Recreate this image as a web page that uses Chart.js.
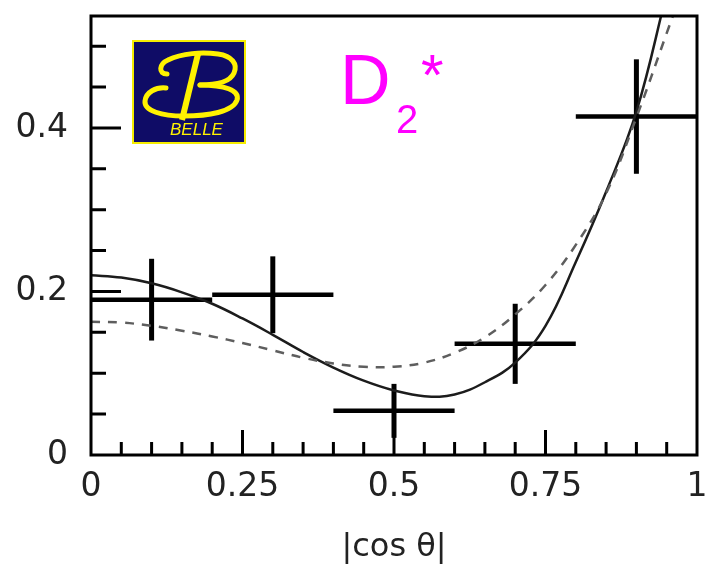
<!DOCTYPE html>
<html>
<head>
<meta charset="utf-8">
<script src="https://cdn.jsdelivr.net/npm/chart.js@4.4.1/dist/chart.umd.min.js"></script>
<style>
  html, body { margin: 0; padding: 0; background: #fff; }
  #wrap { width: 711px; height: 573px; }
</style>
</head>
<body>
<div id="wrap"><canvas id="myChart"></canvas></div>
<script>
// tick labels
const xMajorTicks = [0, 0.25, 0.5, 0.75, 1];
const yMajorTicks = [0, 0.2, 0.4];

// |cos theta| bins and measured yields
const binLow = [0, 0.2, 0.4, 0.6, 0.8];
const binHigh = [0.2, 0.4, 0.6, 0.8, 1.0];
const binCenter = [0.1, 0.3, 0.5, 0.7, 0.9];
const yields = [0.19, 0.196, 0.054, 0.136, 0.414];
const yieldErr = [0.05, 0.047, 0.033, 0.049, 0.07];

// fit curves, sampled every 0.05
const curveX = [0, 0.05, 0.1, 0.15, 0.2, 0.25, 0.3, 0.35, 0.4, 0.45, 0.5,
                0.55, 0.6, 0.65, 0.7, 0.75, 0.8, 0.85, 0.9, 0.95, 1.0];
const solidFit = [0.220, 0.217, 0.210, 0.199, 0.185, 0.167, 0.147, 0.126, 0.107, 0.091, 0.079,
                  0.072, 0.074, 0.089, 0.113, 0.158, 0.236, 0.322, 0.420, 0.565];
const dashedFit = [0.163, 0.162, 0.158, 0.152, 0.145, 0.137, 0.128, 0.119, 0.112, 0.108, 0.108,
                   0.113, 0.125, 0.144, 0.172, 0.208, 0.257, 0.320, 0.413, 0.516, 0.62];

const ctx = document.getElementById('myChart');

function curvePoints(values) {
    return values.map((v, i) => ({ x: curveX[i], y: v }));
}

function minorSteps(count) {
    let out = [];
    for (let i = 1; i <= count; i++) out.push(+(i * 0.05).toFixed(2));
    return out;
}
const xMinor = minorSteps(19);
const yMinor = minorSteps(10);

// error crosses: one horizontal and one vertical segment per bin
let errorSets = [];
binCenter.forEach((c, i) => {
    errorSets.push({
        data: [{ x: binLow[i], y: yields[i] }, { x: binHigh[i], y: yields[i] }],
        borderColor: '#000', borderWidth: 4.5
    });
    errorSets.push({
        data: [{ x: c, y: yields[i] - yieldErr[i] }, { x: c, y: yields[i] + yieldErr[i] }],
        borderColor: '#000', borderWidth: 5
    });
});
errorSets.forEach(d => {
    d.showLine = true;
    d.pointRadius = 0;
    d.borderCapStyle = 'butt';
    d.tension = 0;
});

function drawBelleLogo(c, x0, y0) {
    c.save();
    c.translate(x0, y0);
    c.fillStyle = '#0f0c66';
    c.fillRect(0, 0, 114, 104);
    c.strokeStyle = '#f5ec00';
    c.lineWidth = 2;
    c.strokeRect(1, 1, 112, 102);

    c.strokeStyle = '#fff200';
    c.lineCap = 'round';
    c.lineJoin = 'round';
    // upper loop of the script B
    c.lineWidth = 5;
    c.beginPath();
    c.moveTo(35, 34);
    c.bezierCurveTo(26, 34, 27, 24, 36, 20);
    c.bezierCurveTo(50, 13, 70, 12, 86, 14);
    c.bezierCurveTo(100, 16, 106, 24, 102, 33);
    c.bezierCurveTo(98, 42, 84, 45, 68, 45);
    c.stroke();
    // lower loop with the long swash
    c.beginPath();
    c.moveTo(68, 45);
    c.bezierCurveTo(92, 45, 108, 50, 105, 60);
    c.bezierCurveTo(101, 72, 76, 76, 52, 76);
    c.bezierCurveTo(30, 76, 12, 71, 13, 61);
    c.bezierCurveTo(14, 52, 24, 47, 34, 48);
    c.stroke();
    // slanted stem
    c.lineWidth = 6;
    c.lineCap = 'butt';
    c.beginPath();
    c.moveTo(66, 14);
    c.lineTo(50, 80);
    c.stroke();

    c.fillStyle = '#fff200';
    c.font = 'italic 17px "Liberation Sans"';
    c.textBaseline = 'alphabetic';
    c.fillText('BELLE', 38, 95);
    c.restore();
}

const framePlugin = {
    id: 'frame',
    afterDraw(chart) {
        const c = chart.ctx;
        const a = chart.chartArea;
        const xs = chart.scales.x;
        const ys = chart.scales.y;
        c.save();
        c.strokeStyle = '#000';
        c.lineWidth = 3;
        c.strokeRect(a.left, a.top, a.right - a.left, a.bottom - a.top);

        // ticks point into the plot
        c.beginPath();
        xMinor.forEach(v => {
            const px = xs.getPixelForValue(v);
            const len = xMajorTicks.includes(v) ? 25 : 13;
            c.moveTo(px, a.bottom);
            c.lineTo(px, a.bottom - len);
        });
        yMinor.forEach(v => {
            const py = ys.getPixelForValue(v);
            const len = yMajorTicks.includes(v) ? 30 : 15;
            c.moveTo(a.left, py);
            c.lineTo(a.left + len, py);
        });
        c.stroke();

        drawBelleLogo(c, a.left + 41, a.top + 24);

        // D2* label
        c.fillStyle = '#ff00ff';
        c.textBaseline = 'alphabetic';
        c.font = '70px "Liberation Sans"';
        c.fillText('D', a.left + 249, a.top + 88);
        c.font = '40px "Liberation Sans"';
        c.fillText('2', a.left + 305, a.top + 117);
        c.font = '58px "Liberation Sans"';
        c.fillText('*', a.left + 330, a.top + 79);
        c.restore();
    }
};

const tickFont = { family: 'DejaVu Sans', size: 33 };

new Chart(ctx, {
    type: 'scatter',
    data: {
        datasets: [
            {
                data: curvePoints(dashedFit),
                showLine: true,
                borderColor: '#5e5e5e',
                borderWidth: 2.5,
                borderDash: [9, 8],
                pointRadius: 0,
                tension: 0.4
            },
            {
                data: curvePoints(solidFit),
                showLine: true,
                borderColor: '#1c1c1c',
                borderWidth: 2.5,
                pointRadius: 0,
                tension: 0.4
            },
            ...errorSets
        ]
    },
    options: {
        responsive: true,
        maintainAspectRatio: false,
        animation: false,
        layout: { padding: { top: 16, right: 14, left: 0, bottom: 0 } },
        plugins: {
            legend: { display: false },
            tooltip: { enabled: false }
        },
        scales: {
            x: {
                type: 'linear',
                min: 0,
                max: 1,
                grid: { display: false, drawTicks: false },
                border: { display: false },
                afterBuildTicks: s => { s.ticks = xMajorTicks.map(v => ({ value: v })); },
                afterFit: s => { s.height = 118; s.paddingLeft = 0; s.paddingRight = 0; },
                ticks: {
                    padding: 13,
                    color: '#222',
                    font: tickFont,
                    maxRotation: 0,
                    autoSkip: false,
                    callback: v => String(v)
                },
                title: {
                    display: true,
                    text: '|cos θ|',
                    color: '#222',
                    font: { family: 'DejaVu Sans', size: 32 },
                    padding: { top: 0, bottom: 6 }
                }
            },
            y: {
                type: 'linear',
                min: 0,
                max: 0.537,
                grid: { display: false, drawTicks: false },
                border: { display: false },
                afterBuildTicks: s => { s.ticks = yMajorTicks.map(v => ({ value: v })); },
                afterFit: s => { s.width = 91; s.paddingTop = 0; s.paddingBottom = 0; },
                ticks: {
                    padding: 23,
                    color: '#222',
                    font: tickFont,
                    autoSkip: false,
                    callback: v => String(v)
                }
            }
        }
    },
    plugins: [framePlugin]
});
</script>
</body>
</html>
